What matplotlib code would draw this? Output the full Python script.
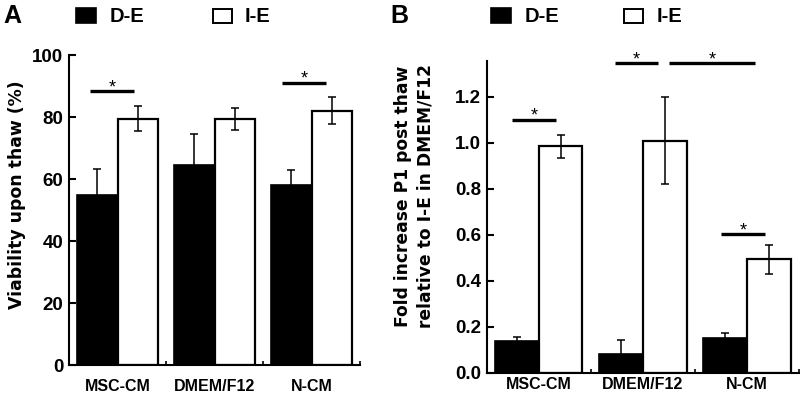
import matplotlib.pyplot as plt
from matplotlib.patches import Rectangle
import numpy as np

plt.rcParams['font.family'] = ['Liberation Sans', 'DejaVu Sans']
plt.rcParams['font.weight'] = 'bold'
plt.rcParams['axes.labelweight'] = 'bold'

groups = ['MSC-CM', 'DMEM/F12', 'N-CM']

# panel A: viability upon thaw (%)
via_de = [54.8, 64.7, 58.0]
via_de_err = [8.5, 10.0, 4.8]
via_ie = [79.5, 79.3, 82.1]
via_ie_err = [4.0, 3.5, 4.4]
# significance bars: (x0, x1, y)
sig_a = [(-0.28, 0.17, 88.3), (1.70, 2.15, 91.0)]

# panel B: fold increase P1 post thaw
fold_de = [0.137, 0.081, 0.152]
fold_de_err = [0.02, 0.06, 0.021]
fold_ie = [0.984, 1.009, 0.493]
fold_ie_err = [0.05, 0.19, 0.062]
sig_b = [(-0.26, 0.17, 1.10), (0.73, 1.15, 1.347), (1.25, 2.08, 1.347), (1.75, 2.17, 0.602)]

fig = plt.figure(figsize=(8, 3.94), dpi=100)
axA = fig.add_axes([69 / 800, 1 - 365.3 / 394, 291 / 800, 310.3 / 394])
axB = fig.add_axes([486.7 / 800, 1 - 372.7 / 394, 312.3 / 800, 312 / 394])

x = np.arange(len(groups))
w = 0.42


def draw(ax, de, de_err, ie, ie_err, sigs, ylim, yticks, fmt, pad):
    ax.bar(x - w / 2, de, w, color='black', edgecolor='black', linewidth=1.2, zorder=2)
    ax.bar(x + w / 2, ie, w, color='white', edgecolor='black', linewidth=1.6, zorder=2)
    ax.errorbar(x - w / 2, de, yerr=de_err, fmt='none', ecolor='black',
                elinewidth=1.1, capsize=3, capthick=1.1, zorder=3)
    ax.errorbar(x + w / 2, ie, yerr=ie_err, fmt='none', ecolor='black',
                elinewidth=1.1, capsize=3, capthick=1.1, zorder=3)
    for x0, x1, y in sigs:
        ax.plot([x0, x1], [y, y], color='black', lw=2.4, solid_capstyle='butt', clip_on=False)
        ax.annotate('*', ((x0 + x1) / 2, y), xytext=(0, 2.5), textcoords='offset points',
                    ha='center', va='center', fontsize=13, fontweight='normal',
                    annotation_clip=False)
    ax.set_xlim(-0.5, 2.5)
    ax.set_ylim(*ylim)
    ax.set_yticks(yticks)
    ax.set_yticklabels([fmt.format(t) for t in yticks])
    ax.set_xticks(x)
    ax.set_xticklabels(groups)
    ax.set_xticks([0.5, 1.5, 2.5], minor=True)
    ax.tick_params(axis='x', which='major', length=0, pad=pad, labelsize=11.5)
    ax.tick_params(axis='x', which='minor', direction='in', length=3, width=1.2)
    ax.tick_params(axis='y', direction='in', length=5, width=1.5, pad=4, labelsize=13.5)
    for s in ['top', 'right']:
        ax.spines[s].set_visible(False)
    for s in ['left', 'bottom']:
        ax.spines[s].set_linewidth(1.5)


draw(axA, via_de, via_de_err, via_ie, via_ie_err, sig_a, (0, 100),
     [0, 20, 40, 60, 80, 100], '{:.0f}', 10)
draw(axB, fold_de, fold_de_err, fold_ie, fold_ie_err, sig_b, (0, 1.357),
     [0.0, 0.2, 0.4, 0.6, 0.8, 1.0, 1.2], '{:.1f}', 3)

# the axis titles are set in a wider face than the tick labels
axA.set_ylabel('Viability upon thaw (%)', fontsize=12.4, va='center',
               family='DejaVu Sans')
axA.yaxis.set_label_coords(-0.18, 0.55)
axB.set_ylabel('Fold increase P1 post thaw\nrelative to I-E in DMEM/F12',
               fontsize=12.3, va='center', linespacing=1.3, family='DejaVu Sans')
axB.yaxis.set_label_coords(-0.231, 0.565)


# panel letters and legends
def legend(letter, lx, bx, tx, wx, ix):
    fig.text(lx / 800, 1 - 23 / 394, letter, fontsize=18, ha='left', va='baseline')
    fig.patches.append(Rectangle((bx / 800, 1 - 23 / 394), 20 / 800, 15 / 394,
                                 transform=fig.transFigure, facecolor='black',
                                 edgecolor='black', lw=1.2))
    fig.text(tx / 800, 1 - 22.5 / 394, 'D-E', fontsize=14.5, ha='left', va='baseline')
    fig.patches.append(Rectangle((wx / 800, 1 - 22.5 / 394), 19 / 800, 14 / 394,
                                 transform=fig.transFigure, facecolor='white',
                                 edgecolor='black', lw=1.4))
    fig.text(ix / 800, 1 - 22.5 / 394, 'I-E', fontsize=14.5, ha='left', va='baseline')


legend('A', 3, 76, 110, 212.5, 245)
legend('B', 390, 491, 525, 623.5, 657)

fig.savefig('out.png', dpi=100)
